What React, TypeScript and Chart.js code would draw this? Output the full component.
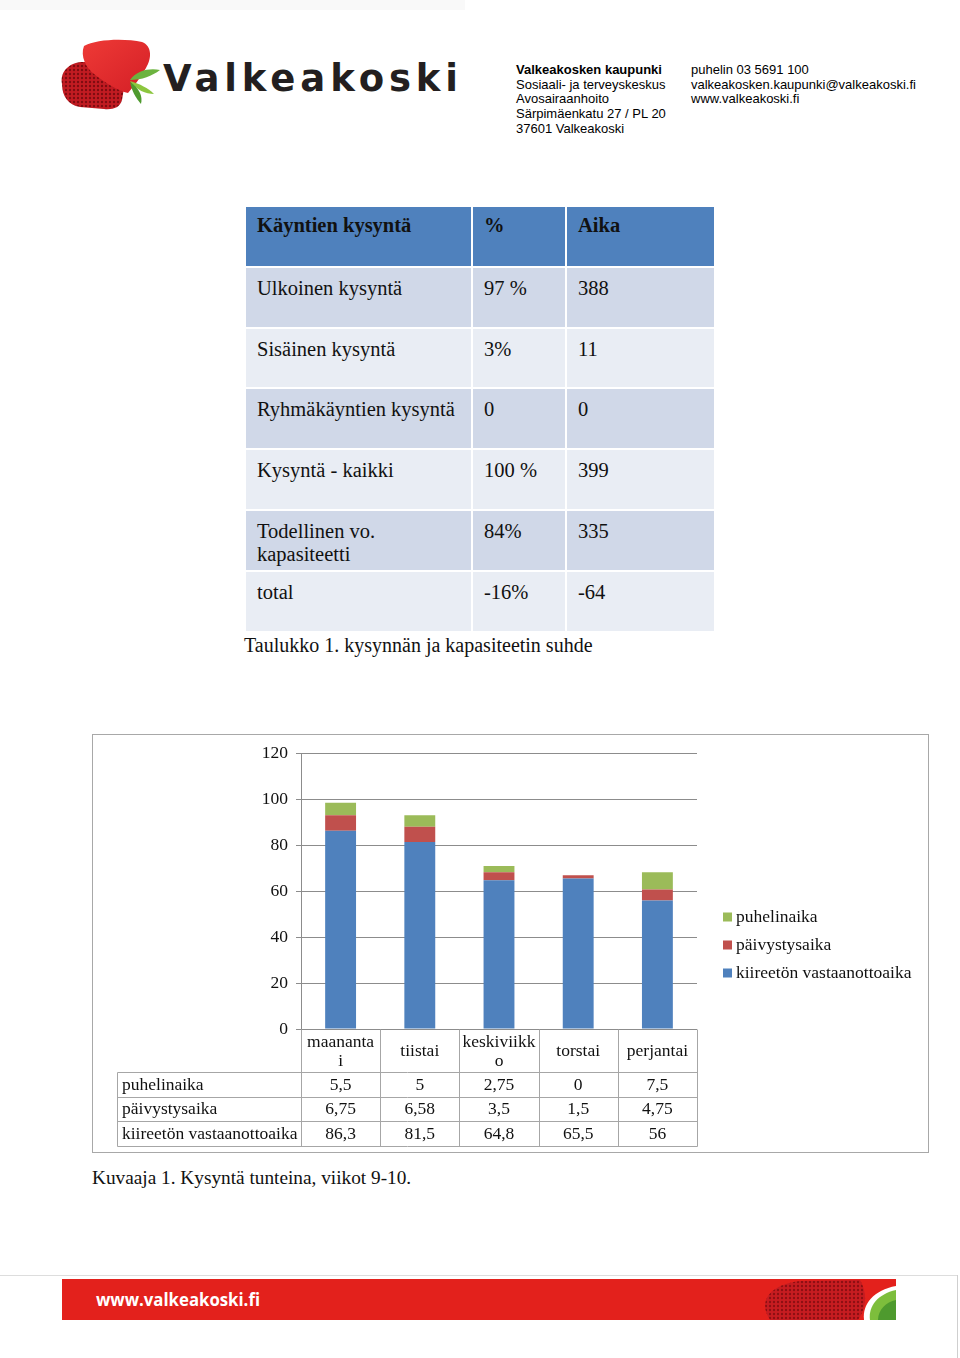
import React, { useEffect, useRef } from 'react';
import { Chart, registerables } from 'chart.js';

Chart.register(...registerables);

// ---------- chart data ----------
const categories = ['maanantai', 'tiistai', 'keskiviikko', 'torstai', 'perjantai'];
const categoryLines = [['maananta', 'i'], ['tiistai'], ['keskiviikk', 'o'], ['torstai'], ['perjantai']];
const seriesNames = ['kiireetön vastaanottoaika', 'päivystysaika', 'puhelinaika'];
const kiireetonValues = [86.3, 81.5, 64.8, 65.5, 56];
const paivystysValues = [6.75, 6.58, 3.5, 1.5, 4.75];
const puhelinValues = [5.5, 5, 2.75, 0, 7.5];
const seriesColors = ['#4F81BD', '#C0504D', '#9BBB59'];
const yMin = 0;
const yMax = 120;
const yStep = 20;

// ---------- table data ----------
const tableHeader = ['Käyntien kysyntä', '%', 'Aika'];
const tableLabels = ['Ulkoinen kysyntä', 'Sisäinen kysyntä', 'Ryhmäkäyntien kysyntä', 'Kysyntä - kaikki', 'Todellinen vo.\nkapasiteetti', 'total'];
const tablePercents = ['97 %', '3%', '0', '100 %', '84%', '-16%'];
const tableTimes = ['388', '11', '0', '399', '335', '-64'];

const SERIF = "'Liberation Serif', 'Times New Roman', serif";
const SANS = "'Liberation Sans', Arial, sans-serif";

const fmt = (v: number) => String(v).replace('.', ',');

const dataTablePlugin = {
  id: 'dataTablePlugin',
  afterDraw(chart: any) {
    const { ctx, chartArea: a, scales } = chart;
    const x = scales.x;
    const n = categories.length;
    const edges: number[] = [a.left];
    for (let i = 0; i < n - 1; i++) {
      edges.push((x.getPixelForValue(i) + x.getPixelForValue(i + 1)) / 2);
    }
    edges.push(a.right);
    const headerTop = a.bottom;
    const headerH = 43;
    const headerBottom = headerTop + headerH;
    const rowH = 24.5;
    const tableLeft = 24;
    const rows = [...chart.data.datasets].reverse();
    const bottom = headerBottom + rowH * rows.length;
    const px = (v: number) => Math.round(v) + 0.5;
    ctx.save();
    ctx.strokeStyle = '#A6A6A6';
    ctx.lineWidth = 1;
    const line = (x1: number, y1: number, x2: number, y2: number) => {
      ctx.beginPath();
      ctx.moveTo(px(x1), px(y1));
      ctx.lineTo(px(x2), px(y2));
      ctx.stroke();
    };
    for (let r = 0; r <= rows.length; r++) {
      const y = headerBottom + r * rowH;
      line(tableLeft, y, a.right, y);
    }
    line(tableLeft, headerBottom, tableLeft, bottom);
    edges.forEach((e) => line(e, headerTop, e, bottom));

    ctx.fillStyle = '#111';
    ctx.font = `17.5px ${SERIF}`;
    ctx.textAlign = 'center';
    ctx.textBaseline = 'middle';
    categoryLines.forEach((lines, i) => {
      const cx = (edges[i] + edges[i + 1]) / 2;
      lines.forEach((t, j) => {
        const cy = headerTop + headerH / 2 + 1 + (j - (lines.length - 1) / 2) * 19;
        ctx.fillText(t, cx, cy);
      });
    });
    rows.forEach((ds: any, r: number) => {
      const cy = headerBottom + r * rowH + rowH / 2 + 1;
      ctx.textAlign = 'left';
      ctx.fillText(ds.label, tableLeft + 5, cy);
      ctx.textAlign = 'center';
      ds.data.forEach((v: number, i: number) => {
        ctx.fillText(fmt(v), (edges[i] + edges[i + 1]) / 2, cy);
      });
    });

    // legend
    const legendX = 630;
    const legendY0 = 182;
    const legendStep = 28;
    rows.forEach((ds: any, r: number) => {
      const cy = legendY0 + r * legendStep;
      ctx.fillStyle = ds.backgroundColor;
      ctx.fillRect(legendX, cy - 4.5, 9, 9);
      ctx.fillStyle = '#111';
      ctx.textAlign = 'left';
      ctx.fillText(ds.label, legendX + 13, cy);
    });
    ctx.restore();
  },
};

function StackedChart() {
  const ref = useRef<HTMLCanvasElement | null>(null);
  useEffect(() => {
    if (!ref.current) return;
    const values = [kiireetonValues, paivystysValues, puhelinValues];
    const chart = new Chart(ref.current, {
      type: 'bar',
      data: {
        labels: categories,
        datasets: seriesNames.map((name, i) => ({
          label: name,
          data: values[i],
          backgroundColor: seriesColors[i],
          borderWidth: 0,
          barPercentage: 0.39,
          categoryPercentage: 1,
        })),
      },
      options: {
        responsive: false,
        animation: false,
        devicePixelRatio: 1,
        layout: { padding: { left: 148, right: 231, top: 17, bottom: 123 } },
        plugins: { legend: { display: false }, tooltip: { enabled: false } },
        scales: {
          x: { stacked: true, display: false },
          y: {
            stacked: true,
            min: yMin,
            max: yMax,
            afterFit: (s: any) => { s.width = 60; },
            ticks: {
              stepSize: yStep,
              color: '#111',
              padding: 8,
              font: { family: SERIF, size: 17.5 },
            },
            grid: { color: '#8C8C8C', tickLength: 5, drawTicks: true },
            border: { display: true, color: '#8C8C8C' },
          },
        },
      },
      plugins: [dataTablePlugin],
    } as any);
    return () => chart.destroy();
  }, []);
  return <canvas ref={ref} width={835} height={417} style={{ display: 'block' }} />;
}

export default function App() {
  const rowColors = ['#D0D8E8', '#E9EDF4'];
  const cell = (bg: string, extra: React.CSSProperties = {}): React.CSSProperties => ({
    background: bg,
    padding: '9px 0 0 11px',
    whiteSpace: 'pre-line',
    boxSizing: 'border-box',
    ...extra,
  });
  return (
    <div style={{ position: 'absolute', left: 0, top: 0, width: 960, height: 1358, background: '#fff', overflow: 'hidden', color: '#111' }}>
      <svg width={960} height={1358} style={{ position: 'absolute', left: 0, top: 0 }}>
        <defs>
          <pattern id="dots" width="4" height="4" patternUnits="userSpaceOnUse">
            <rect width="4" height="4" fill="#C21B22" />
            <circle cx="2" cy="2" r="1.2" fill="#7E0B10" />
          </pattern>
          <linearGradient id="front" x1="0" y1="0" x2="1" y2="1">
            <stop offset="0" stopColor="#EE3A36" />
            <stop offset="1" stopColor="#D41F26" />
          </linearGradient>
        </defs>
        <rect x="0" y="0" width="465" height="10" fill="#F9F9F9" />
        {/* logo */}
        <path d="M62 84 C 60 72, 68 64, 80 62 L 106 62 C 118 64, 124 76, 124 88 L 122 100 C 120 108, 112 110, 104 109 L 80 107 C 68 105, 62 96, 62 84 Z" fill="url(#dots)" />
        <path d="M 84 46 C 96 39, 125 38, 142 42 C 152 46, 152 58, 146 68 C 140 78, 134 86, 128 93 C 118 91, 104 82, 94 74 C 86 68, 80 56, 84 46 Z" fill="url(#front)" />
        <path d="M130 80 C 137 70, 150 68, 160 70 C 152 76, 142 80, 130 80 Z" fill="#6CB33F" />
        <path d="M130 81 C 140 84, 148 88, 154 94 C 146 94, 136 90, 130 81 Z" fill="#8CC63F" />
        <path d="M130 82 C 132 92, 136 98, 141 104 C 143 96, 139 88, 130 82 Z" fill="#4E9A2E" />
        <text x="163" y="91" fontFamily="'DejaVu Sans', sans-serif" fontWeight="bold" fontSize="37" fill="#231F20" textLength="295" lengthAdjust="spacing">Valkeakoski</text>
        {/* footer */}
        <line x1="0" y1="1275.5" x2="958" y2="1275.5" stroke="#DDDDDD" />
        <line x1="957.5" y1="1275" x2="957.5" y2="1358" stroke="#CFCFCF" />
        <rect x="62" y="1279" width="834" height="41" fill="#E3211C" />
        <path d="M 770 1320 C 758 1302, 768 1285, 800 1281 L 860 1280 C 868 1294, 866 1308, 858 1320 Z" fill="url(#dots)" opacity="0.85" />
        <path d="M 864 1320 C 862 1304, 874 1290, 896 1286 L 896 1320 Z" fill="#FFFFFF" />
        <path d="M 870 1320 C 868 1306, 878 1294, 896 1290 L 896 1320 Z" fill="#7DBE3C" />
        <path d="M 878 1320 C 878 1310, 886 1302, 896 1300 L 896 1320 Z" fill="#4E9A2E" />
        <text x="96" y="1306" fontFamily="'Open Sans', sans-serif" fontWeight="bold" fontSize="17" fill="#FFFFFF" textLength="164" lengthAdjust="spacingAndGlyphs">www.valkeakoski.fi</text>
      </svg>

      {/* header address */}
      <div style={{ position: 'absolute', left: 516, top: 63.25, fontFamily: SANS, fontSize: 13, lineHeight: '14.6px', color: '#000' }}>
        <div style={{ fontWeight: 'bold' }}>Valkeakosken kaupunki</div>
        <div>Sosiaali- ja terveyskeskus</div>
        <div>Avosairaanhoito</div>
        <div>Särpimäenkatu 27 / PL 20</div>
        <div>37601 Valkeakoski</div>
      </div>
      <div style={{ position: 'absolute', left: 691, top: 63.25, fontFamily: SANS, fontSize: 13, lineHeight: '14.6px', color: '#000' }}>
        <div>puhelin 03 5691 100</div>
        <div>valkeakosken.kaupunki@valkeakoski.fi</div>
        <div>www.valkeakoski.fi</div>
      </div>

      {/* table */}
      <div style={{ position: 'absolute', left: 246, top: 207, width: 468, display: 'grid', gridTemplateColumns: '225px 92px 147px', gridAutoRows: '58.8px', columnGap: 2, rowGap: 2, fontFamily: SERIF, fontSize: 20.5, lineHeight: '23px', color: '#111' }}>
        {tableHeader.map((h, i) => (
          <div key={'h' + i} style={cell('#4F81BD', { fontWeight: 'bold', paddingTop: 7 })}>{h}</div>
        ))}
        {tableLabels.map((label, r) => (
          <React.Fragment key={'r' + r}>
            <div style={cell(rowColors[r % 2])}>{label}</div>
            <div style={cell(rowColors[r % 2])}>{tablePercents[r]}</div>
            <div style={cell(rowColors[r % 2])}>{tableTimes[r]}</div>
          </React.Fragment>
        ))}
      </div>
      <div style={{ position: 'absolute', left: 244, top: 633, fontFamily: SERIF, fontSize: 20, lineHeight: '24px', whiteSpace: 'nowrap' }}>
        Taulukko 1. kysynnän ja kapasiteetin suhde
      </div>

      {/* chart */}
      <div style={{ position: 'absolute', left: 92, top: 734, width: 837, height: 419, border: '1px solid #A8A8A8', boxSizing: 'border-box' }}>
        <StackedChart />
      </div>
      <div style={{ position: 'absolute', left: 92, top: 1166, fontFamily: SERIF, fontSize: 19.3, lineHeight: '24px', whiteSpace: 'nowrap' }}>
        Kuvaaja 1. Kysyntä tunteina, viikot 9-10.
      </div>
    </div>
  );
}
